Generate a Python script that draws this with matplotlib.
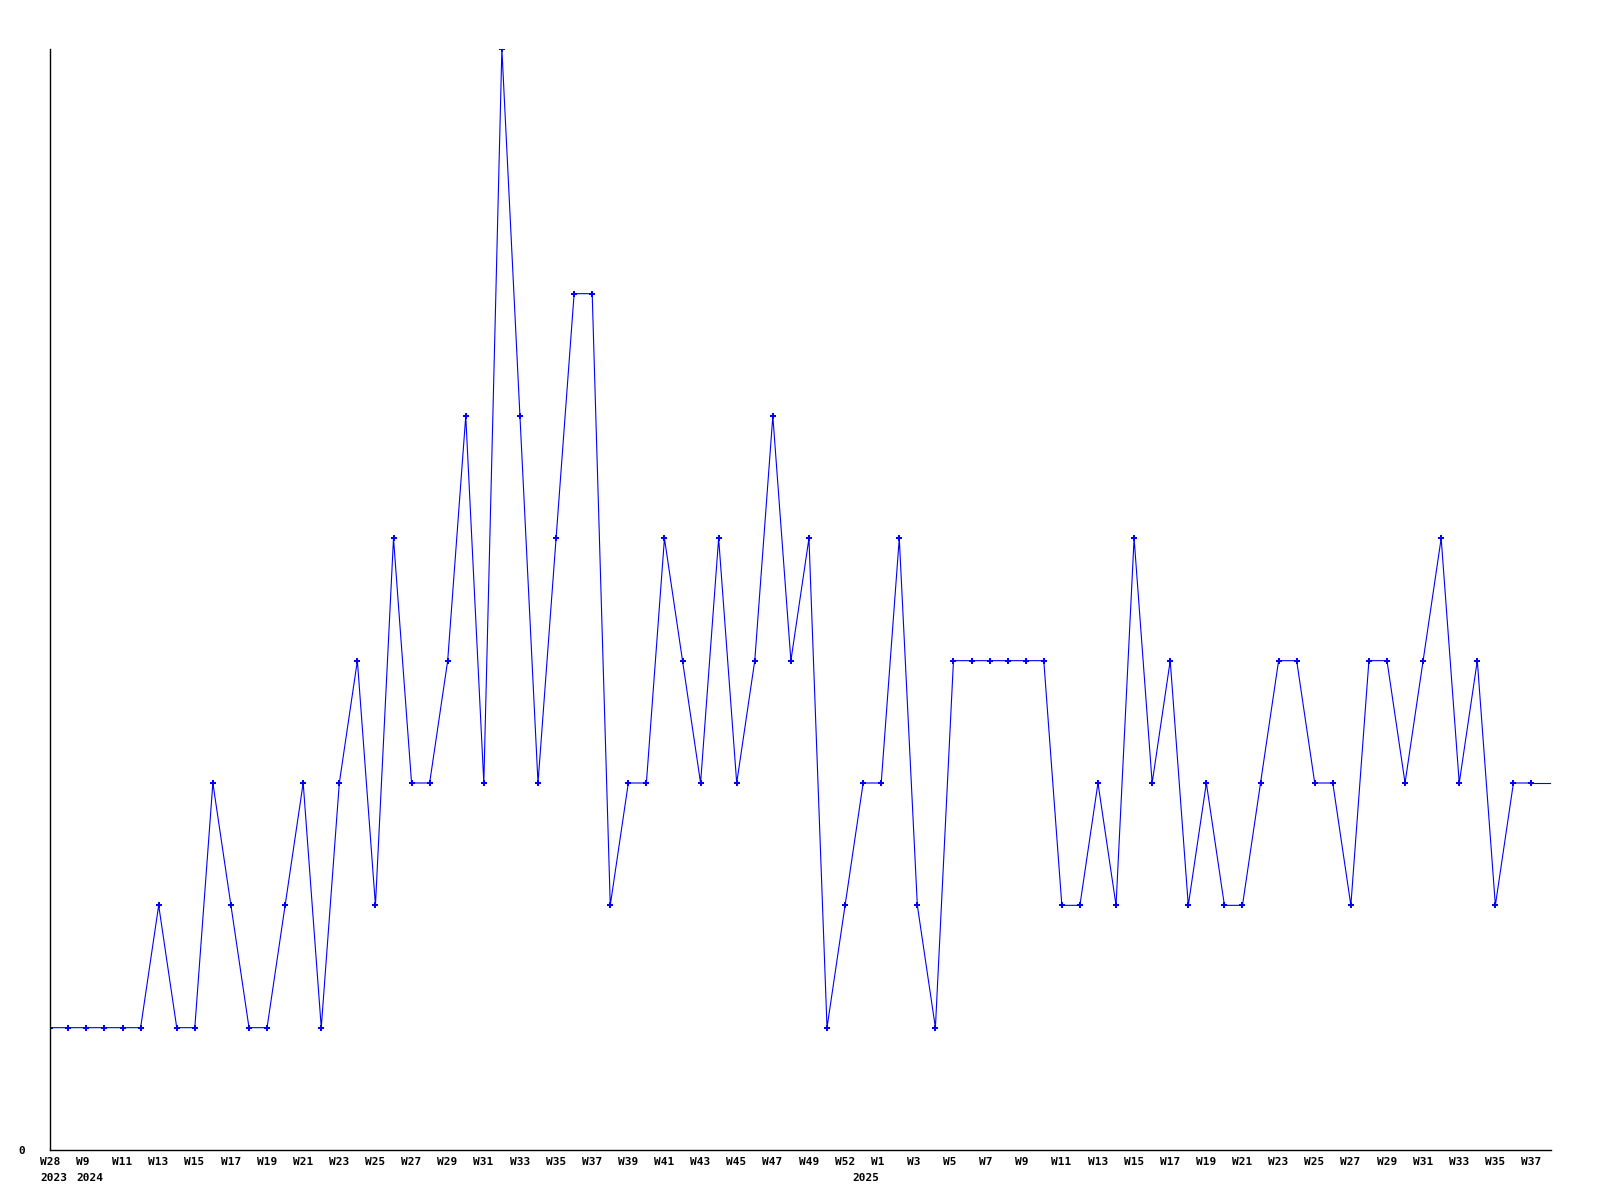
import matplotlib
matplotlib.use("Agg")
import matplotlib.pyplot as plt
from matplotlib.transforms import ScaledTranslation, blended_transform_factory

# Weekly counts (one point per week with data)
values = [1, 1, 1, 1, 1, 1, 2, 1, 1, 3, 2, 1, 1, 2, 3, 1, 3, 4, 2, 5,
          3, 3, 4, 6, 3, 9, 6, 3, 5, 7, 7, 2, 3, 3, 5, 4, 3, 5, 3, 4,
          6, 4, 5, 1, 2, 3, 3, 5, 2, 1, 4, 4, 4, 4, 4, 4, 2, 2, 3, 2,
          5, 3, 4, 2, 3, 2, 2, 3, 4, 4, 3, 3, 2, 4, 4, 3, 4, 5, 3, 4,
          2, 3, 3]

# Labels shown on every second point
week_labels = ["W28", "W9", "W11", "W13", "W15", "W17", "W19", "W21", "W23",
               "W25", "W27", "W29", "W31", "W33", "W35", "W37", "W39", "W41",
               "W43", "W45", "W47", "W49", "W52", "W1", "W3", "W5", "W7", "W9",
               "W11", "W13", "W15", "W17", "W19", "W21", "W23", "W25", "W27",
               "W29", "W31", "W33", "W35", "W37"]
year_labels = ["2023", "2024", "2025"]
year_positions = [0, 2, 45]

fig = plt.figure(figsize=(16, 12), dpi=100)
ax = fig.add_axes([50.3 / 1600, 50 / 1200, (1551 - 50.3) / 1600, (1151 - 50) / 1200])

x = list(range(len(values)))
xmax = len(values) - 1 + 1.08
ax.plot(x, values, color="#0000ff", linewidth=0.8, marker="P",
        markersize=4.2, markeredgewidth=0, solid_joinstyle="miter")
# continuation of the last value to the plot edge
ax.plot([x[-1], xmax], [values[-1], values[-1]], color="#0000ff", linewidth=0.8)

ax.set_xlim(0, xmax)
ax.set_ylim(0, 9)

for s in ["top", "right"]:
    ax.spines[s].set_visible(False)
for s in ["left", "bottom"]:
    ax.spines[s].set_linewidth(1.0)
    ax.spines[s].set_color("black")

mono = {"family": "DejaVu Sans Mono", "weight": "bold", "size": 8}

ax.set_yticks([0])
ax.set_yticklabels(["0"], fontdict=mono)
ax.tick_params(axis="y", length=0, pad=18)

ax.set_xticks(x[::2])
ax.set_xticklabels(week_labels, fontdict=mono)
ax.tick_params(axis="x", length=0, pad=5)
off = ScaledTranslation(-10.4 / 100, 0, fig.dpi_scale_trans)
for lab in ax.get_xticklabels():
    lab.set_horizontalalignment("left")
    lab.set_transform(lab.get_transform() + off)

trans = blended_transform_factory(ax.transData, ax.transAxes) + \
    ScaledTranslation(-10.4 / 100, -23 / 100, fig.dpi_scale_trans)
for lbl, pos in zip(year_labels, year_positions):
    ax.text(pos, 0, lbl, transform=trans, ha="left", va="top", fontdict=mono)

fig.savefig("out.png", dpi=100, facecolor="white")
